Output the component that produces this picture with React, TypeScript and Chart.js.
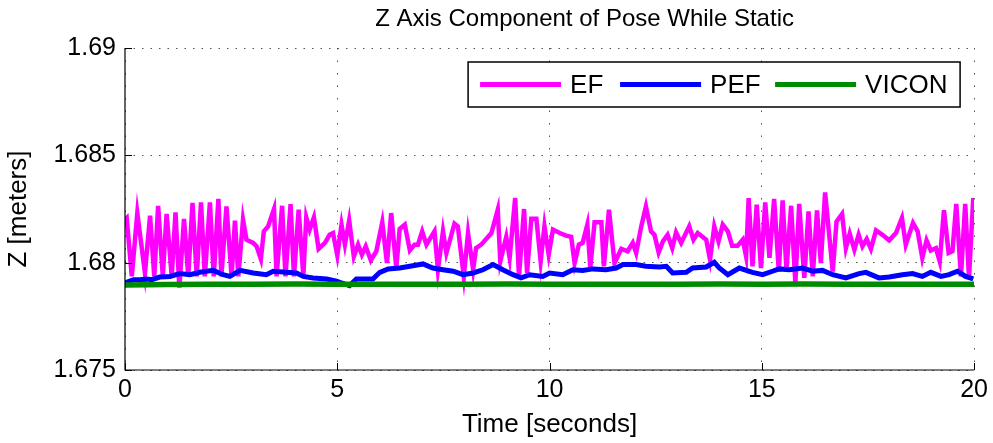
import React, { useEffect, useRef } from 'react';
import { Chart, registerables } from 'chart.js';

Chart.register(...registerables);

const TITLE = 'Z Axis Component of Pose While Static';
const X_LABEL = 'Time [seconds]';
const Y_LABEL = 'Z [meters]';
const X_TICKS = [0, 5, 10, 15, 20];
const Y_TICKS = [1.675, 1.68, 1.685, 1.69];
const SERIES_NAMES = ['EF', 'PEF', 'VICON'];
const SERIES_COLORS = ['#ff00ff', '#0000ff', '#008c00'];

const EF_T = [
  0.0, 0.04, 0.16, 0.29, 0.47, 0.59, 0.69, 0.78, 0.89, 0.98, 1.1, 1.19, 1.28, 1.39, 1.49, 1.59, 1.69, 1.79, 1.88, 2.0,
  2.09, 2.2, 2.27, 2.39, 2.51, 2.59, 2.67, 2.78, 2.86, 3.02, 3.1, 3.2, 3.27, 3.37, 3.51, 3.57, 3.7, 3.78, 3.9, 3.98,
  4.09, 4.2, 4.27, 4.35, 4.45, 4.56, 4.71, 4.82, 4.9, 5.0, 5.1, 5.18, 5.28, 5.39, 5.49, 5.58, 5.67, 5.79, 5.92, 6.06,
  6.17, 6.27, 6.39, 6.47, 6.59, 6.71, 6.82, 6.9, 7.0, 7.1, 7.29, 7.37, 7.49, 7.57, 7.76, 7.84, 7.98, 8.08, 8.2, 8.27,
  8.39, 8.63, 8.78, 8.84, 8.98, 9.06, 9.19, 9.28, 9.4, 9.47, 9.57, 9.69, 9.79, 9.88, 9.98, 10.08, 10.24, 10.39, 10.51, 10.59,
  10.69, 10.78, 10.89, 10.96, 11.06, 11.22, 11.28, 11.4, 11.53, 11.69, 11.84, 11.96, 12.04, 12.16, 12.27, 12.39, 12.47, 12.57, 12.67, 12.78,
  12.89, 12.98, 13.1, 13.29, 13.39, 13.49, 13.69, 13.78, 13.88, 13.98, 14.08, 14.2, 14.3, 14.43, 14.55, 14.63, 14.69, 14.78, 14.88, 14.98,
  15.08, 15.18, 15.29, 15.4, 15.49, 15.58, 15.69, 15.79, 15.88, 16.0, 16.1, 16.2, 16.3, 16.39, 16.49, 16.67, 16.76, 16.89, 16.98, 17.07,
  17.18, 17.28, 17.37, 17.47, 17.57, 17.69, 17.84, 18.0, 18.16, 18.3, 18.39, 18.56, 18.67, 18.78, 18.88, 18.98, 19.1, 19.19, 19.29, 19.4,
  19.49, 19.58, 19.69, 19.79, 19.88, 19.98,
];
const EF_V = [
  1.682, 1.68208, 1.67936, 1.68231, 1.67952, 1.68219, 1.67936, 1.68265, 1.67936, 1.68227, 1.67936, 1.68234, 1.67884, 1.68204, 1.67936, 1.68278, 1.67936, 1.68281, 1.67936, 1.68281,
  1.67936, 1.68297, 1.67936, 1.68262, 1.67936, 1.68196, 1.67936, 1.682, 1.68107, 1.68092, 1.68076, 1.68017, 1.68146, 1.68169, 1.6825, 1.67936, 1.68265, 1.67936, 1.68273, 1.67936,
  1.68247, 1.67936, 1.68211, 1.68154, 1.68211, 1.68064, 1.68092, 1.6813, 1.68138, 1.68035, 1.68177, 1.68084, 1.68197, 1.68029, 1.68084, 1.68037, 1.68076, 1.68011, 1.68053, 1.68188,
  1.67998, 1.68231, 1.67975, 1.68157, 1.68177, 1.68057, 1.68084, 1.68084, 1.68146, 1.68084, 1.68146, 1.67967, 1.68146, 1.68045, 1.68182, 1.68169, 1.67936, 1.68138, 1.67967, 1.68068,
  1.68084, 1.68138, 1.68247, 1.68006, 1.6812, 1.68022, 1.68301, 1.67936, 1.6825, 1.67952, 1.68204, 1.68204, 1.68006, 1.6817, 1.68037, 1.68154, 1.68138, 1.68126, 1.6812, 1.67998,
  1.68084, 1.68092, 1.68177, 1.67975, 1.68188, 1.68188, 1.67983, 1.68247, 1.67998, 1.68064, 1.68053, 1.68092, 1.68045, 1.68169, 1.68262, 1.68146, 1.6813, 1.68048, 1.68099, 1.6813,
  1.68068, 1.68141, 1.68092, 1.68169, 1.68107, 1.68138, 1.68107, 1.68014, 1.68169, 1.68099, 1.68177, 1.68146, 1.68079, 1.68079, 1.68107, 1.68029, 1.68301, 1.67983, 1.6827, 1.67975,
  1.68281, 1.68022, 1.68297, 1.67959, 1.6829, 1.67967, 1.68265, 1.67905, 1.68274, 1.67929, 1.68239, 1.67936, 1.68244, 1.67998, 1.68327, 1.67959, 1.68192, 1.68227, 1.68068, 1.68135,
  1.68061, 1.6813, 1.68076, 1.6811, 1.68064, 1.6815, 1.6813, 1.68104, 1.68138, 1.68208, 1.68084, 1.68185, 1.68146, 1.68022, 1.68104, 1.68057, 1.68068, 1.68006, 1.68244, 1.68045,
  1.68053, 1.68274, 1.67936, 1.68274, 1.67929, 1.68301,
];

const PEF_T = [
  0.0, 0.2, 0.35, 0.51, 0.63, 0.82, 1.06, 1.29, 1.53, 1.76, 2.08, 2.31, 2.47, 2.71, 3.02, 3.33, 3.49, 3.8, 4.04, 4.2,
  4.43, 4.75, 4.98, 5.06, 5.29, 5.45, 5.84, 6.0, 6.2, 6.47, 6.71, 7.02, 7.25, 7.49, 7.73, 7.96, 8.2, 8.43, 8.67, 8.9,
  9.14, 9.33, 9.53, 9.84, 10.0, 10.31, 10.55, 10.78, 11.02, 11.33, 11.57, 11.73, 12.04, 12.27, 12.59, 12.75, 12.9, 13.22, 13.37, 13.69,
  13.88, 14.0, 14.2, 14.47, 14.78, 15.02, 15.25, 15.41, 15.65, 15.96, 16.2, 16.43, 16.67, 16.98, 17.29, 17.45, 17.76, 18.0, 18.31, 18.55,
  18.78, 18.98, 19.22, 19.41, 19.61, 19.8, 19.98,
];
const PEF_V = [
  1.67905, 1.67921, 1.67921, 1.67924, 1.67921, 1.67933, 1.67936, 1.67949, 1.67944, 1.67955, 1.67964, 1.67944, 1.67936, 1.67964, 1.67952, 1.67944, 1.6796, 1.67955, 1.67952, 1.67936,
  1.67929, 1.67924, 1.67914, 1.67908, 1.67893, 1.67924, 1.67924, 1.67955, 1.67971, 1.67975, 1.67983, 1.67994, 1.67975, 1.67967, 1.6796, 1.67944, 1.67952, 1.67967, 1.67991, 1.67967,
  1.67944, 1.67929, 1.67944, 1.67936, 1.67952, 1.67944, 1.67967, 1.67964, 1.67971, 1.67967, 1.67975, 1.67991, 1.67991, 1.67983, 1.6798, 1.67983, 1.67952, 1.67955, 1.67975, 1.6798,
  1.68002, 1.67975, 1.67944, 1.67975, 1.67955, 1.67944, 1.6796, 1.67971, 1.67967, 1.67975, 1.6796, 1.67964, 1.67944, 1.67929, 1.67949, 1.67955, 1.67929, 1.67933, 1.67944, 1.67949,
  1.67936, 1.67955, 1.67936, 1.67944, 1.6796, 1.67936, 1.67924,
];

const VICON_T = [0, 1, 2, 3, 4, 5, 6, 7, 8, 9, 10, 11, 12, 13, 14, 15, 16, 17, 18, 19, 20];
const VICON_V = [
  1.67896, 1.67898, 1.679, 1.679, 1.67901, 1.679, 1.67899, 1.679, 1.679, 1.67901, 1.679,
  1.679, 1.67899, 1.679, 1.67901, 1.679, 1.67901, 1.679, 1.679, 1.679, 1.679,
];

const FONT = 'Helvetica, "Liberation Sans", Arial, sans-serif';

const toXY = (ts: number[], vs: number[]) => ts.map((t, i) => ({ x: t, y: vs[i] }));

const framePlugin = {
  id: 'matlabFrame',
  afterDatasetsDraw(chart: any) {
    const { ctx, chartArea, scales } = chart;
    const { left, right, top, bottom } = chartArea;
    ctx.save();
    ctx.strokeStyle = '#000';
    ctx.lineWidth = 1.2;
    ctx.beginPath();
    ctx.moveTo(left, top);
    ctx.lineTo(left, bottom);
    ctx.lineTo(right, bottom);
    ctx.stroke();
    ctx.lineWidth = 1;
    const tl = 7;
    X_TICKS.forEach((v) => {
      const px = Math.round(scales.x.getPixelForValue(v)) + 0.5;
      ctx.beginPath();
      ctx.moveTo(px, bottom);
      ctx.lineTo(px, bottom - tl);
      ctx.stroke();
    });
    Y_TICKS.forEach((v) => {
      const py = Math.round(scales.y.getPixelForValue(v)) + 0.5;
      ctx.beginPath();
      ctx.moveTo(left, py);
      ctx.lineTo(left + tl, py);
      ctx.stroke();
    });
    ctx.restore();
  },
};

const legendPlugin = {
  id: 'matlabLegend',
  afterDraw(chart: any) {
    const { ctx, chartArea } = chart;
    const w = 492;
    const h = 45;
    const x0 = chartArea.right - 14 - w;
    const y0 = chartArea.top + 14;
    ctx.save();
    ctx.fillStyle = '#fff';
    ctx.fillRect(x0, y0, w, h);
    ctx.strokeStyle = '#000';
    ctx.lineWidth = 1.5;
    ctx.strokeRect(x0, y0, w, h);
    const cy = y0 + h / 2;
    const lineStarts = [12, 152, 307];
    ctx.font = `26px ${FONT}`;
    ctx.textBaseline = 'middle';
    ctx.textAlign = 'left';
    chart.data.datasets.forEach((ds: any, i: number) => {
      const lx = x0 + lineStarts[i];
      ctx.strokeStyle = ds.borderColor;
      ctx.lineWidth = 5;
      ctx.beginPath();
      ctx.moveTo(lx, cy);
      ctx.lineTo(lx + 81, cy);
      ctx.stroke();
      ctx.fillStyle = '#000';
      ctx.fillText(ds.label, lx + 90, cy + 1);
    });
    ctx.restore();
  },
};

const titlePlugin = {
  id: 'matlabTitle',
  afterDraw(chart: any) {
    const { ctx, chartArea } = chart;
    ctx.save();
    ctx.font = `24px ${FONT}`;
    ctx.fillStyle = '#000';
    ctx.textAlign = 'center';
    ctx.textBaseline = 'alphabetic';
    ctx.fillText(TITLE, (chartArea.left + chartArea.right) / 2 + 35, 26);
    ctx.restore();
  },
};

export default function App() {
  const ref = useRef<HTMLCanvasElement | null>(null);

  useEffect(() => {
    if (!ref.current) return;
    const chart = new Chart(ref.current, {
      type: 'line',
      data: {
        datasets: [
          {
            label: SERIES_NAMES[0],
            data: toXY(EF_T, EF_V),
            borderColor: SERIES_COLORS[0],
            backgroundColor: SERIES_COLORS[0],
            borderWidth: 4.5,
            pointRadius: 0,
            tension: 0,
            order: 3,
          },
          {
            label: SERIES_NAMES[1],
            data: toXY(PEF_T, PEF_V),
            borderColor: SERIES_COLORS[1],
            backgroundColor: SERIES_COLORS[1],
            borderWidth: 5,
            pointRadius: 0,
            tension: 0,
            order: 2,
          },
          {
            label: SERIES_NAMES[2],
            data: toXY(VICON_T, VICON_V),
            borderColor: SERIES_COLORS[2],
            backgroundColor: SERIES_COLORS[2],
            borderWidth: 5.5,
            pointRadius: 0,
            tension: 0,
            order: 1,
          },
        ],
      },
      options: {
        animation: false,
        responsive: false,
        maintainAspectRatio: false,
        devicePixelRatio: 1,
        layout: { padding: { left: 0, right: 18, top: 48, bottom: 0 } },
        plugins: {
          legend: { display: false },
          title: { display: false },
          tooltip: { enabled: false },
        },
        scales: {
          x: {
            type: 'linear',
            min: 0,
            max: 20,
            afterBuildTicks: (s: any) => {
              s.ticks = X_TICKS.map((v) => ({ value: v }));
            },
            afterFit: (s: any) => {
              s.height = 73;
            },
            ticks: {
              font: { size: 25, family: FONT },
              color: '#000',
              padding: 5,
              maxRotation: 0,
              autoSkip: false,
            },
            grid: { color: '#555', lineWidth: 1, drawTicks: false },
            border: { display: false, dash: [1.5, 11] },
            title: {
              display: true,
              text: X_LABEL,
              font: { size: 26, family: FONT },
              color: '#000',
              padding: { top: 0, bottom: 3 },
            },
          },
          y: {
            type: 'linear',
            min: 1.675,
            max: 1.69,
            afterBuildTicks: (s: any) => {
              s.ticks = Y_TICKS.map((v) => ({ value: v }));
            },
            afterFit: (s: any) => {
              s.width = 125;
            },
            ticks: {
              font: { size: 25, family: FONT },
              color: '#000',
              padding: 9,
              autoSkip: false,
              callback: (v: any) => String(+Number(v).toFixed(3)),
            },
            grid: { color: '#555', lineWidth: 1, drawTicks: false },
            border: { display: false, dash: [1.5, 7] },
            title: {
              display: true,
              text: Y_LABEL,
              font: { size: 26, family: FONT },
              color: '#000',
              padding: { top: 3, bottom: 0 },
            },
          },
        },
      },
      plugins: [framePlugin, legendPlugin, titlePlugin],
    } as any);
    return () => chart.destroy();
  }, []);

  return (
    <div style={{ position: 'absolute', left: 0, top: 0, width: 993, height: 443, background: '#fff' }}>
      <canvas ref={ref} width={993} height={443} style={{ display: 'block' }} />
    </div>
  );
}
